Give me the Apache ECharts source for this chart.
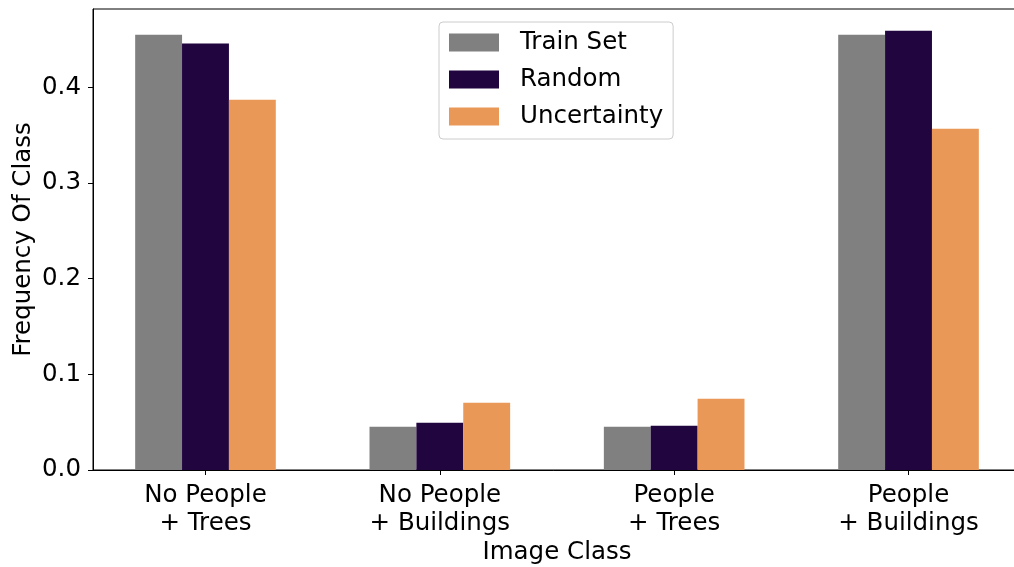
<!DOCTYPE html>
<html>
<head>
<meta charset="utf-8">
<script src="https://cdn.jsdelivr.net/npm/echarts@6/dist/echarts.min.js"></script>
<style>html,body{margin:0;padding:0;background:#fff}#c{width:1014px;height:567px}</style>
</head>
<body>
<div id="c"></div>
<script>
const categories = ['No People\n+ Trees', 'No People\n+ Buildings', 'People\n+ Trees', 'People\n+ Buildings'];
const seriesNames = ['Train Set', 'Random', 'Uncertainty'];
const trainSet = [0.455, 0.0453, 0.0453, 0.455];
const random = [0.446, 0.0495, 0.0463, 0.4593];
const uncertainty = [0.3871, 0.0704, 0.0746, 0.3568];
const yTicks = [0, 0.1, 0.2, 0.3, 0.4];
const colors = ['#808080', '#20053f', '#ea9858'];

const FONT = 'DejaVu Sans';
const values = [trainSet, random, uncertainty];
const offsets = [-0.2, 0, 0.2];
const catIdx = categories.map((_, i) => i);

const chart = echarts.init(document.getElementById('c'), null, {renderer: 'canvas'});
chart.setOption({
  animation: false,
  backgroundColor: '#fff',
  textStyle: {fontFamily: FONT},
  grid: {left: 93, top: 9, width: 928, height: 461, outerBoundsMode: 'none', containLabel: false,
         show: true, borderColor: '#000', borderWidth: 1, backgroundColor: 'transparent'},
  legend: {
    orient: 'vertical', left: 439, top: 22,
    itemWidth: 50, itemHeight: 18, itemGap: 12,
    icon: 'rect',
    padding: [8, 10, 10, 10],
    borderColor: '#cccccc', borderWidth: 1, borderRadius: 4,
    backgroundColor: 'rgba(255,255,255,0.8)',
    textStyle: {fontFamily: FONT, fontSize: 24.5, color: '#000', padding: [0, 0, 0, 16]},
    data: seriesNames
  },
  xAxis: {
    type: 'value', min: -0.48, max: 3.48,
    splitLine: {show: false},
    axisLine: {show: true, onZero: false, lineStyle: {color: '#000', width: 1}},
    axisTick: {show: true, length: 5, lineStyle: {color: '#000'}, customValues: catIdx},
    axisLabel: {customValues: catIdx, formatter: v => categories[Math.round(v)], fontFamily: FONT, fontSize: 24.5, color: '#000', margin: 11, lineHeight: 28.5, align: 'center'},
    name: 'Image Class', nameLocation: 'middle', nameGap: 70, nameMoveOverlap: false,
    nameTextStyle: {fontFamily: FONT, fontSize: 24.5, color: '#000'}
  },
  yAxis: {
    type: 'value', min: 0, max: 0.482,
    splitLine: {show: false},
    axisLine: {show: true, onZero: false, lineStyle: {color: '#000', width: 1}},
    axisTick: {show: true, length: 5, lineStyle: {color: '#000'}, customValues: yTicks},
    axisLabel: {customValues: yTicks, formatter: v => v.toFixed(1), fontFamily: FONT, fontSize: 24.5, color: '#000', margin: 12},
    name: 'Frequency Of Class', nameLocation: 'middle', nameGap: 57, nameMoveOverlap: false,
    nameTextStyle: {fontFamily: FONT, fontSize: 24.5, color: '#000'}
  },
  series: seriesNames.map((name, s) => ({
    name, type: 'bar',
    barWidth: 46.9, barGap: '-100%',
    itemStyle: {color: colors[s]},
    data: values[s].map((v, i) => [i + offsets[s], v])
  }))
});
</script>
</body>
</html>
